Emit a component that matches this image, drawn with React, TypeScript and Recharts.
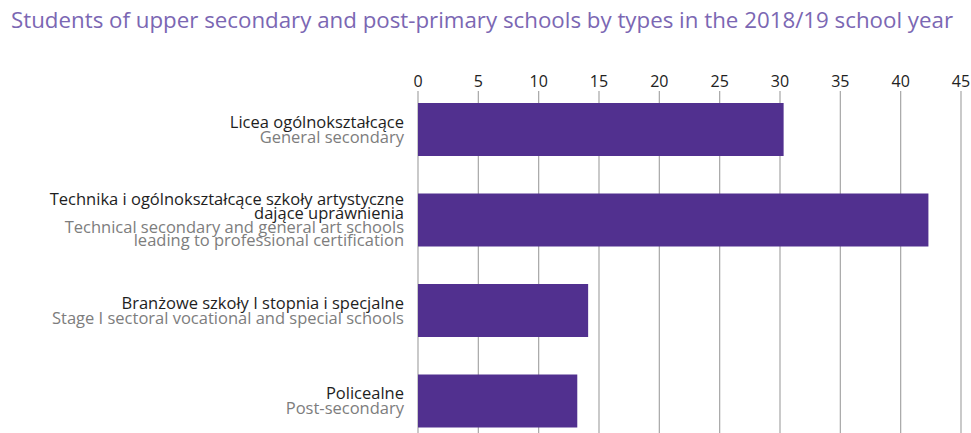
import React from "react";
import { BarChart, Bar, XAxis, YAxis, CartesianGrid } from "recharts";

const subtitle = "Students of upper secondary and post-primary schools by types in the 2018/19 school year";

const categoryPl: string[][] = [
  ["Licea ogólnokształcące"],
  ["Technika i ogólnokształcące szkoły artystyczne", "dające uprawnienia"],
  ["Branżowe szkoły I stopnia i specjalne"],
  ["Policealne"],
];

const categoryEn: string[][] = [
  ["General secondary"],
  ["Technical secondary and general art schools", "leading to professional certification"],
  ["Stage I sectoral vocational and special schools"],
  ["Post-secondary"],
];

const values = [30.3, 42.3, 14.1, 13.2];

const xTicks = [0, 5, 10, 15, 20, 25, 30, 35, 40, 45];

const data = values.map((v, i) => ({ id: String(i), value: v }));

const FONT = "'Open Sans', 'Noto Sans', sans-serif";
const BAR_COLOR = "#51308f";

const YTick = (props: any) => {
  const { x, y, payload } = props;
  const idx = Number(payload.value);
  const pl = categoryPl[idx] || [];
  const en = categoryEn[idx] || [];
  const lines = [
    ...pl.map((t) => ({ t, c: "#1e1e1e" })),
    ...en.map((t) => ({ t, c: "#7d7d7d" })),
  ];
  const n = lines.length;
  const lh = n > 2 ? 13.8 : 14.8;
  const capHalf = 5.9;
  return (
    <g>
      {lines.map((l, i) => (
        <text
          key={i}
          x={x}
          y={y + (i - (n - 1) / 2) * lh + capHalf}
          textAnchor="end"
          fill={l.c}
          fontSize={16.5}
          fontFamily={FONT}
        >
          {l.t}
        </text>
      ))}
    </g>
  );
};

const XTick = (props: any) => {
  const { x, y, payload } = props;
  return (
    <text x={x} y={y + 3} textAnchor="middle" fill="#222" fontSize={16} fontFamily={FONT}>
      {payload.value}
    </text>
  );
};

const GridLine = (props: any) => {
  const { x1, x2, y1, y2 } = props;
  return <line x1={x1} x2={x2} y1={y1 + 7} y2={y2} stroke="#a6a6a6" strokeWidth={1.2} />;
};

export default function App() {
  return (
    <div
      style={{
        position: "fixed",
        left: 0,
        top: 0,
        width: 971,
        height: 433,
        overflow: "hidden",
        background: "#fff",
      }}
    >
      <svg width={971} height={40} style={{ position: "absolute", left: 0, top: 0 }}>
        <text x={11} y={28} fontSize={22.3} fill="#7b67b3" fontFamily={FONT}>
          {subtitle}
        </text>
      </svg>
      <div style={{ position: "absolute", left: 0, top: 0 }}>
        <BarChart
          width={971}
          height={450}
          data={data}
          layout="vertical"
          margin={{ top: 54, right: 10, bottom: 4, left: 0 }}
        >
          <CartesianGrid horizontal={false} vertical={(p: any) => <GridLine key={p.key} {...p} />} />
          <XAxis
            type="number"
            orientation="top"
            domain={[0, 45]}
            ticks={xTicks}
            axisLine={false}
            tickLine={false}
            tickSize={0}
            tickMargin={0}
            height={30}
            tick={<XTick />}
            interval={0}
          />
          <YAxis
            type="category"
            dataKey="id"
            width={418}
            axisLine={false}
            tickLine={false}
            tickSize={0}
            tickMargin={14}
            tick={<YTick />}
            interval={0}
          />
          <Bar dataKey="value" fill={BAR_COLOR} barSize={53} isAnimationActive={false} />
        </BarChart>
      </div>
    </div>
  );
}
